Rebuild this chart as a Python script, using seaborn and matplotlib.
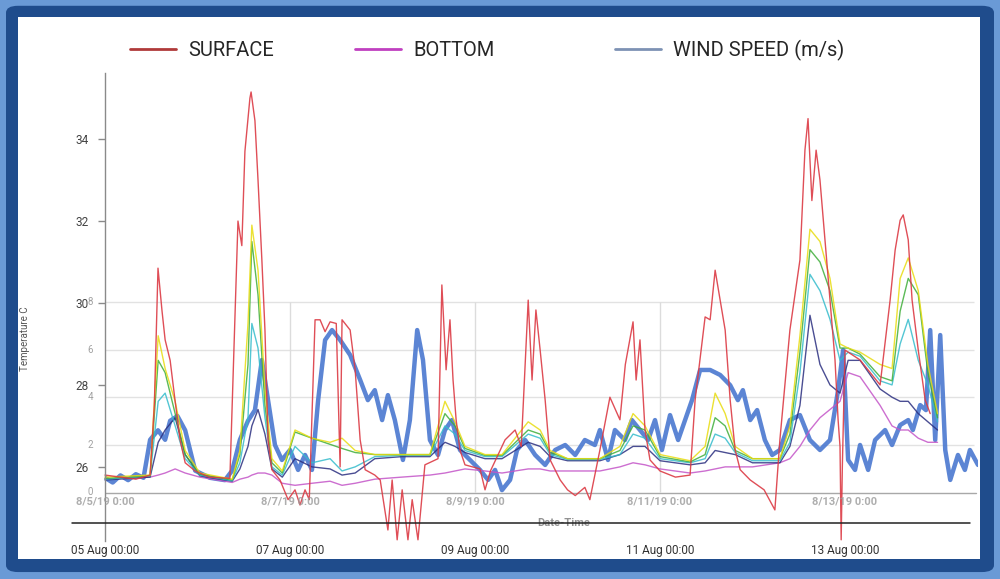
import numpy as np
import pandas as pd
import matplotlib
matplotlib.use("Agg")
import matplotlib.pyplot as plt
import seaborn as sns
from matplotlib.lines import Line2D
from matplotlib.patches import FancyBboxPatch, Rectangle
import matplotlib.transforms as mtransforms

# ---------------- data ----------------
# hours since 05 Aug 00:00
surface_hours = [0, 4, 8, 11.7, 12.8, 13.75, 14.8, 15.6, 16.9, 18.2, 19.5, 20.8, 23.4, 27, 32.4,
                 34.5, 35.5, 36.3, 37.6, 37.9, 38.9, 39.7, 40.7, 41.5, 42.3, 43.3, 45.4, 47.5, 49.3,
                 50.6, 51.9, 53.0, 54.5, 55.8, 57.1, 58.4, 60, 61, 61.5, 63.6, 64.9, 66.2, 67.5, 70,
                 71.4, 73.4, 74.5, 75.8, 77.1, 78.6, 79.7, 81.2, 83, 86.4, 87.4, 88.5, 89.5, 90.3,
                 91.1, 92.1, 93.4, 97.3, 98.6, 100, 103.8, 106.4, 108, 109.8, 110.8, 111.8, 112.9,
                 114.2, 115.5, 118.1, 120, 122, 124.5, 125.8, 128.4, 131, 133.6, 135, 137, 137.8,
                 138.8, 140.1, 141.4, 144, 148, 151.8, 153.1, 155.7, 157, 158.3, 159.6, 160.9,
                 162.2, 163.5, 164.8, 167.4, 171, 173.8, 175.1, 177.7, 180.3, 181.6, 182.4, 183.4,
                 184.5, 185.5, 186.8, 188.1, 189.4, 190.2, 190.7, 191.0, 191.3, 192.0, 195.9, 201.1,
                 203.7, 205.0, 206.3, 207.1, 208.4, 209.4, 211, 212.8, 214.1]
surface_temp = [25.8, 25.75, 25.7, 25.8, 27.5, 30.85, 29.8, 29.1, 28.6, 27.6, 26.65, 26.1, 25.9, 25.75, 25.72,
                32.0, 31.4, 33.7, 35.0, 35.15, 34.45, 33.0, 31.05, 29.34, 26.66, 25.93, 25.68, 25.2, 25.44,
                25.07, 25.44, 25.2, 29.59, 29.59, 29.3, 29.54, 29.5, 26.0, 29.59, 29.34, 28.37, 26.66, 25.93, 25.8,
                25.68, 24.46, 25.68, 24.22, 25.44, 24.22, 25.2, 24.22, 26.05, 26.2, 30.44, 28.37, 29.59, 28.12,
                27.15, 26.41, 26.05, 25.95, 25.44, 25.9, 26.66, 26.9, 26.5, 30.07, 28.12, 29.83, 28.85,
                27.63, 26.17, 25.68, 25.44, 25.3, 25.5, 25.2, 26.41, 27.7, 27.15, 28.5, 29.54, 28.12,
                29.1, 26.9, 26.17, 25.9, 25.75, 25.8, 27.63, 29.66, 29.59, 30.8, 30.07, 29.34,
                27.63, 26.41, 25.93, 25.68, 25.44, 24.95, 26.66, 29.34, 31.05, 33.73, 34.5, 32.5,
                33.73, 33.0, 31.54, 30.07, 28.61, 27.15, 26.5, 24.22, 26.0, 28.85, 28.61, 28.0,
                30.07, 31.29, 32.02, 32.15, 31.54, 30.07, 28.85, 27.63, 27.3]

mid_hours = [0, 11.7, 13.8, 15.6, 18.2, 20.8, 24.6, 33, 35, 37.1, 38.1, 39.7, 41.5, 43.3, 46, 49.3,
             53.7, 58.4, 61.5, 64.9, 70, 77, 84.3, 88.2, 90.8, 93.4, 98.6, 103, 109.8, 112.9, 115.5,
             120, 128.4, 133.6, 137, 140.1, 144, 151.8, 155.7, 158.3, 160.9, 163.5, 168, 175.1,
             177.7, 180.3, 182.9, 185.5, 188.1, 190.7, 192.8, 195.9, 201.1, 204.2, 206.3, 208.4,
             211, 213.5, 216]
yellow_temp = [25.75, 25.8, 29.2, 28.4, 27.6, 26.4, 25.85, 25.7, 26.4, 29.5, 31.9, 30.8, 27.9, 26.2, 25.9, 26.9,
               26.7, 26.6, 26.7, 26.4, 26.3, 26.3, 26.3, 27.6, 27.1, 26.5, 26.3, 26.3, 27.1, 26.9, 26.4,
               26.2, 26.2, 26.5, 27.3, 27.0, 26.3, 26.15, 26.5, 27.8, 27.3, 26.5, 26.2, 26.2,
               27.0, 29.2, 31.8, 31.5, 30.6, 29.0, 28.9, 28.8, 28.5, 28.4, 30.6, 31.1,
               30.3, 28.5, 27.3]
green_temp = [25.72, 25.78, 28.6, 28.3, 27.3, 26.3, 25.82, 25.68, 26.3, 28.5, 31.5, 30.2, 27.5, 26.1, 25.85, 26.85,
              26.7, 26.55, 26.45, 26.35, 26.3, 26.3, 26.3, 27.3, 27.0, 26.45, 26.28, 26.28, 26.9, 26.8, 26.35,
              26.2, 26.2, 26.4, 27.0, 26.9, 26.25, 26.12, 26.3, 27.2, 27.0, 26.4, 26.2, 26.2,
              26.8, 28.8, 31.3, 31.0, 30.3, 28.9, 28.9, 28.75, 28.2, 28.1, 29.8, 30.6,
              30.2, 28.3, 27.2]
cyan_temp = [25.7, 25.78, 27.6, 27.8, 27.0, 26.2, 25.8, 25.66, 26.1, 27.2, 29.5, 28.9, 27.2, 26.0, 25.8, 26.5,
             26.1, 26.2, 25.9, 26.0, 26.25, 26.28, 26.28, 27.0, 26.8, 26.4, 26.25, 26.25, 26.8, 26.7, 26.3,
             26.18, 26.18, 26.3, 26.8, 26.7, 26.2, 26.1, 26.2, 26.8, 26.7, 26.35, 26.15, 26.15,
             26.6, 28.3, 30.7, 30.3, 29.6, 28.6, 28.8, 28.7, 28.1, 28.0, 29.0, 29.6,
             28.6, 28.0, 27.1]
navy_temp = [25.68, 25.75, 26.6, 26.9, 27.2, 26.3, 25.78, 25.65, 25.95, 26.5, 27.0, 27.4, 26.8, 25.95, 25.75, 26.2,
             26.0, 25.95, 25.8, 25.85, 26.2, 26.25, 26.25, 26.6, 26.5, 26.35, 26.2, 26.2, 26.6, 26.5, 26.25,
             26.15, 26.15, 26.3, 26.5, 26.5, 26.15, 26.05, 26.1, 26.4, 26.35, 26.3, 26.1, 26.1,
             26.5, 27.5, 29.7, 28.5, 28.0, 27.8, 28.6, 28.6, 27.9, 27.7, 27.6, 27.6,
             27.3, 27.1, 26.9]
bottom_temp = [25.7, 25.75, 25.8, 25.85, 25.95, 25.85, 25.75, 25.62, 25.7, 25.75, 25.8, 25.85, 25.85, 25.8, 25.6, 25.55,
               25.6, 25.65, 25.55, 25.6, 25.7, 25.75, 25.8, 25.85, 25.9, 25.95, 25.9, 25.85, 25.95, 25.95, 25.9,
               25.9, 25.9, 26.0, 26.1, 26.05, 25.95, 25.85, 25.9, 25.95, 26.0, 26.0, 26.0, 26.1,
               26.2, 26.5, 26.9, 27.2, 27.4, 27.6, 28.3, 28.2, 27.5, 27.0, 26.9, 26.9,
               26.7, 26.6, 26.6]

wind_hours = [0, 2, 4, 6, 8, 10, 11.7, 13.75, 15.6, 16.9, 18.8, 20.8, 23.4, 27.2, 31.1, 33, 35, 37.1, 38.9,
              40.7, 42.3, 44.1, 45.9, 48, 50.1, 51.9, 53.7, 55.3, 57.1, 58.9, 61, 63.6, 66.2, 68.2, 70,
              71.9, 73.4, 75.2, 77.3, 79.1, 81, 82.5, 84.3, 86.4, 88.2, 90, 92.1, 94.7, 97.3, 99.4,
              101.2, 103, 105.1, 106.9, 109, 111.6, 114.2, 116.8, 119.4, 122, 124.5, 127.1, 128.4,
              130.5, 132.3, 134.9, 136.7, 138.8, 140.9, 142.7, 144.5, 146.6, 148.7, 150.5, 152.3,
              154.4, 157, 159.6, 162.2, 164.2, 165.5, 167.4, 169.2, 171.2, 173.1, 175.1, 177.7,
              180.3, 182.9, 185.5, 188.1, 190.2, 191.5, 192.8, 194.6, 195.9, 198, 199.8, 202.4,
              204.2, 206.3, 208.4, 209.6, 211.5, 213, 214.1, 215.4, 216.7, 218, 219.3, 221.3,
              223.1, 224.4, 226.5]
wind_speed = [0.6, 0.4, 0.7, 0.5, 0.75, 0.6, 2.2, 2.6, 2.2, 3.0, 3.2, 2.6, 0.9, 0.6, 0.5, 0.9, 2.2, 3.0, 3.45,
              5.56, 3.87, 1.98, 1.35, 1.77, 0.93, 1.56, 0.93, 3.87, 6.4, 6.82, 6.4, 5.77, 4.72, 3.87, 4.29,
              3.03, 4.08, 3.03, 1.35, 3.03, 6.82, 5.56, 2.19, 1.56, 2.61, 3.03, 1.77, 1.35, 0.93, 0.51,
              0.93, 0.08, 0.51, 1.77, 2.19, 1.56, 1.14, 1.77, 1.98, 1.56, 2.19, 1.98, 2.61,
              1.35, 2.61, 2.19, 3.03, 2.61, 2.19, 3.03, 1.77, 3.24, 2.19, 3.03, 3.87,
              5.14, 5.14, 4.93, 4.5, 3.87, 4.29, 3.03, 3.45, 2.19, 1.56, 1.77, 3.03,
              3.24, 2.19, 1.77, 2.19, 4.29, 5.98, 1.35, 0.93, 1.98, 0.93, 2.19, 2.61,
              1.98, 2.82, 3.03, 2.61, 3.66, 3.45, 6.82, 2.19, 6.61, 1.77, 0.51, 1.56,
              0.93, 1.77, 1.14]

temp_ticks = [26, 28, 30, 32, 34]
wind_ticks = [0, 2, 4, 6, 8]
date_ticks = [0, 48, 96, 144, 192]
date_labels = ["05 Aug 00:00", "07 Aug 00:00", "09 Aug 00:00", "11 Aug 00:00", "13 Aug 00:00"]
ghost_labels = ["8/5/19 0:00", "8/7/19 0:00", "8/9/19 0:00", "8/11/19 0:00", "8/13/19 0:00"]
legend_labels = ["SURFACE", "BOTTOM", "WIND SPEED (m/s)"]

# ---------------- style ----------------
sns.set_style("white")
plt.rcParams["font.family"] = ["Roboto", "DejaVu Sans"]

fig = plt.figure(figsize=(10, 5.79), dpi=100)
fig.patch.set_facecolor("#6a9ad6")
fig.patches.append(FancyBboxPatch((0.006, 0.012), 0.988, 0.978, boxstyle="round,pad=0,rounding_size=0.012",
                                  transform=fig.transFigure, facecolor="#1f4c8c", edgecolor="none", zorder=0))
fig.patches.append(Rectangle((0.018, 0.034), 0.962, 0.937, transform=fig.transFigure,
                             facecolor="white", edgecolor="none", zorder=0.5))

ax = fig.add_axes([0.105, 0.0967, 0.873, 0.777])
ax.patch.set_alpha(0)
ax2 = ax.twinx()
ax2.patch.set_alpha(0)

XMAX = 226.5
ax.set_xlim(0, XMAX)
ax.set_ylim(24.63, 35.61)
ax2.set_ylim(-1.305, 17.64)

# grid (wind axis)
ax2.hlines([2, 4, 6, 8], 0, 225.5, color="#e2e2e2", lw=1, zorder=0)
ax2.vlines(date_ticks[1:4], 0, 8, color="#dcdcdc", lw=1, zorder=0)

mid = pd.DataFrame({"hour": mid_hours, "yellow": yellow_temp, "green": green_temp,
                    "cyan": cyan_temp, "navy": navy_temp, "bottom": bottom_temp})
layer_colors = {"yellow": "#e8dc10", "green": "#3fae3a", "cyan": "#35bccc", "navy": "#2b2f80",
                "bottom": "#c455c8"}
for name in ["bottom", "navy", "cyan", "green", "yellow"]:
    sns.lineplot(data=mid, x="hour", y=name, ax=ax, color=layer_colors[name], lw=1.0,
                 alpha=0.85, sort=False, estimator=None, legend=False)

wind = pd.DataFrame({"hour": wind_hours, "wind": wind_speed})
sns.lineplot(data=wind, x="hour", y="wind", ax=ax2, color="#4a78d0", lw=3.2, alpha=0.9,
             sort=False, estimator=None, legend=False)

surf = pd.DataFrame({"hour": surface_hours, "temp": surface_temp})
sns.lineplot(data=surf, x="hour", y="temp", ax=ax, color="#dc3b45", lw=1.0, alpha=0.9,
             sort=False, estimator=None, legend=False)
for l in ax.get_lines():
    l.set_clip_on(False)
ax.set_zorder(2)
ax2.set_zorder(1)

# axes styling
for s in ["top", "right", "bottom"]:
    ax.spines[s].set_visible(False)
for s in ax2.spines.values():
    s.set_visible(False)
ax2.set_yticks([])
ax2.set_ylabel("")
ax.spines["left"].set_color("#8a8a8a")
ax.spines["left"].set_linewidth(1.0)
ax.spines["left"].set_bounds(24.2, 35.61)

ax.set_yticks(temp_ticks)
ax.set_yticklabels([str(t) for t in temp_ticks], fontsize=8.5, color="#444444")
ax.tick_params(axis="y", length=5, width=1, color="#8a8a8a", pad=7)
ax.set_xticks(date_ticks)
ax.set_xticklabels(date_labels, fontsize=8.5, color="#333333")
ax.tick_params(axis="x", length=7, width=1, color="#555555", pad=8, direction="out")
ax.set_xlabel("")
ax.set_ylabel("Temperature C", fontsize=7, color="#555555")
ax.yaxis.set_label_coords(-0.086, 0.41)

# main axis line and inner axis line
ax.axhline(24.63, xmin=-0.038, xmax=0.991, color="#222222", lw=1.1, clip_on=False, zorder=5)
ax.axhline(25.37, xmin=0, xmax=0.998, color="#a8a8a8", lw=1.0, zorder=0)

# ghost overlapped labels from the underlying chart
for h, g in zip(date_ticks, ghost_labels):
    ax.text(h, 25.15, g, ha="center", va="center", fontsize=8, color="#9a9a9a", alpha=0.8,
            fontweight="bold")
ax.text(119, 24.63, "Date-Time", ha="center", va="center", fontsize=8, color="#777777", alpha=0.8,
        fontweight="bold")
trans = mtransforms.blended_transform_factory(ax2.transAxes, ax2.transData)
for w in wind_ticks:
    ax2.text(-0.017, w, str(w), transform=trans, ha="center", va="center", fontsize=7,
             color="#8a8a8a", alpha=0.8)

# legend: three single-entry legends placed like the reference
handle_colors = ["#b03a3a", "#c040c0", "#7d92b4"]
legend_x = [0.130, 0.355, 0.615]
for lab, col, lx in zip(legend_labels, handle_colors, legend_x):
    fig.legend([Line2D([], [], color=col, lw=2)], [lab], loc="center left",
               bbox_to_anchor=(lx, 0.913), frameon=False, fontsize=14.5, handlelength=2.3,
               handletextpad=0.6, borderpad=0, borderaxespad=0)

fig.savefig("out.png", dpi=100)
